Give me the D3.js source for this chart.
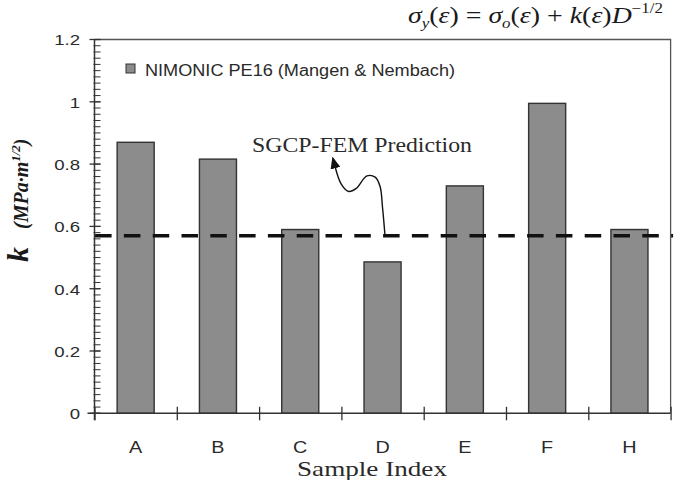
<!DOCTYPE html>
<html><head><meta charset="utf-8">
<script src="https://cdn.jsdelivr.net/npm/d3@7"></script>
<style>
html,body{margin:0;padding:0;background:#fff;}
svg{display:block;}
</style></head>
<body>
<svg id="chart" width="679" height="480"></svg>
<script>
// ---- data ----
const categories = ["A","B","C","D","E","F","H"];
const kValues = [0.870, 0.816, 0.590, 0.486, 0.730, 0.995, 0.590];
const prediction = 0.57;
const yTicks = [0, 0.2, 0.4, 0.6, 0.8, 1.0, 1.2];
const yTickLabels = ["0","0.2","0.4","0.6","0.8","1","1.2"];
const legendLabel = "NIMONIC PE16 (Mangen & Nembach)";
const annotationLabel = "SGCP-FEM Prediction";
const xTitle = "Sample Index";
// annotation arrow path in data space (category index, k value)
const arrowIdx = [3.53, 3.50, 3.47, 3.41, 3.31, 3.18, 3.09, 3.00, 2.925];
const arrowVal = [0.570, 0.660, 0.728, 0.758, 0.762, 0.722, 0.712, 0.735, 0.790];

// ---- layout ----
const L = 94.5, R = 670.6, T = 39.5, B = 413.3;
const svg = d3.select("#chart");

const x = d3.scaleBand().domain(categories).range([L, R]).paddingInner(0.55).paddingOuter(0.275);
const xi = d3.scaleLinear().domain([0, categories.length]).range([L, R]);
const y = d3.scaleLinear().domain([0, 1.2]).range([B, T]);

const axisColor = "#333";
const textColor = "#2a2a2a";
const sans = "Arial, 'Liberation Sans', Helvetica, sans-serif";
const serif = "'Times New Roman', 'Liberation Serif', Times, serif";

// frame (top + right)
svg.append("path")
  .attr("d", `M${L},${T}H${R}V${B}`)
  .attr("fill", "none").attr("stroke", "#555").attr("stroke-width", 1.3);

// bars
svg.append("g").selectAll("rect").data(categories).join("rect")
  .attr("x", d => x(d))
  .attr("y", (d, i) => y(kValues[i]))
  .attr("width", x.bandwidth())
  .attr("height", (d, i) => y(0) - y(kValues[i]))
  .attr("fill", "#8c8c8c")
  .attr("stroke", "#333")
  .attr("stroke-width", 1.4);

// y axis
const yAxis = svg.append("g").attr("transform", `translate(${L},0)`)
  .call(d3.axisLeft(y).tickValues(yTicks).tickSize(0).tickPadding(0)
    .tickFormat((d, i) => yTickLabels[i]));
yAxis.select(".domain").remove();
yAxis.selectAll("text")
  .attr("x", 0).attr("dy", "0.35em")
  .attr("transform", "translate(-14.5,0) scale(1.2,1)")
  .attr("font-family", sans).attr("font-size", 15.5).attr("fill", textColor);
// axis line
svg.append("line").attr("x1", L).attr("x2", L).attr("y1", T).attr("y2", B + 7)
  .attr("stroke", axisColor).attr("stroke-width", 1.5);
// minor ticks
svg.append("g").selectAll("line").data(d3.range(0, 61).map(i => i * 0.02)).join("line")
  .attr("x1", L - 1).attr("x2", L + 6)
  .attr("y1", d => y(d)).attr("y2", d => y(d))
  .attr("stroke", axisColor).attr("stroke-width", 1);
// major ticks
svg.append("g").selectAll("line").data(yTicks).join("line")
  .attr("x1", L - 5).attr("x2", L + 6)
  .attr("y1", d => y(d)).attr("y2", d => y(d))
  .attr("stroke", axisColor).attr("stroke-width", 1.3);

// x axis
svg.append("line").attr("x1", L - 7).attr("x2", R).attr("y1", B).attr("y2", B)
  .attr("stroke", axisColor).attr("stroke-width", 1.5);
const xAx = svg.append("g").attr("transform", `translate(0,${B})`)
  .call(d3.axisBottom(xi).tickValues(d3.range(0, categories.length + 1)).tickSize(7).tickFormat(""));
xAx.select(".domain").remove();
xAx.selectAll(".tick line").attr("y1", -6.5).attr("stroke", axisColor).attr("stroke-width", 1.3);
const xLab = svg.append("g").attr("transform", `translate(0,${B})`)
  .call(d3.axisBottom(x).tickSize(0).tickPadding(0));
xLab.select(".domain").remove();
xLab.selectAll("text")
  .attr("y", 0).attr("dy", 0)
  .attr("transform", "translate(0,40) scale(1.2,1)")
  .attr("font-family", sans).attr("font-size", 16.5).attr("fill", textColor);

// prediction dashed line
svg.append("line")
  .attr("x1", L - 9.5).attr("x2", R + 2.5)
  .attr("y1", y(prediction)).attr("y2", y(prediction))
  .attr("stroke", "#111").attr("stroke-width", 3.4)
  .attr("stroke-dasharray", "16.5,12.3").attr("stroke-dashoffset", 18.7);

// arrow
svg.append("defs").append("marker")
  .attr("id", "ah").attr("viewBox", "0 0 12 10").attr("refX", 1).attr("refY", 5)
  .attr("markerWidth", 12).attr("markerHeight", 10).attr("markerUnits", "userSpaceOnUse")
  .attr("orient", "auto")
  .append("path").attr("d", "M0,0 L12,5 L0,10 Z").attr("fill", "#111");
const arrowPts = arrowIdx.map((v, i) => [xi(v), y(arrowVal[i])]);
svg.append("path")
  .attr("d", d3.line().curve(d3.curveCatmullRom.alpha(0.5))(arrowPts))
  .attr("fill", "none").attr("stroke", "#111").attr("stroke-width", 1.4)
  .attr("marker-end", "url(#ah)");

// annotation text
svg.append("text")
  .attr("x", xi(1.914)).attr("y", y(0.839))
  .attr("font-family", serif).attr("font-size", 20).attr("fill", textColor)
  .attr("textLength", 220).attr("lengthAdjust", "spacingAndGlyphs")
  .text(annotationLabel);

// legend
svg.append("rect").attr("x", 126).attr("y", 64).attr("width", 9).attr("height", 9)
  .attr("fill", "#8c8c8c").attr("stroke", "#333").attr("stroke-width", 1);
svg.append("text").attr("x", 145).attr("y", 75.5)
  .attr("font-family", sans).attr("font-size", 16).attr("fill", textColor)
  .attr("textLength", 310).attr("lengthAdjust", "spacingAndGlyphs")
  .text(legendLabel);

// x title
svg.append("text").attr("x", 297).attr("y", 476)
  .attr("font-family", serif).attr("font-size", 22).attr("fill", textColor)
  .attr("textLength", 150).attr("lengthAdjust", "spacingAndGlyphs")
  .text(xTitle);

// y title
const yt = svg.append("text")
  .attr("transform", "translate(28,262) rotate(-90)")
  .attr("font-family", serif).attr("font-weight", "bold").attr("font-style", "italic")
  .attr("fill", "#1a1a1a");
yt.append("tspan").attr("font-size", 30).text("k");
yt.append("tspan").attr("font-size", 20).attr("dx", 18).text("(MPa·m");
yt.append("tspan").attr("font-size", 13).attr("dy", -8).text("1/2");
yt.append("tspan").attr("font-size", 20).attr("dy", 8).text(")");

// formula
const f = svg.append("text").attr("x", 408).attr("y", 23)
  .attr("font-family", serif).attr("font-style", "italic").attr("font-size", 23).attr("fill", "#1a1a1a")
  .attr("textLength", 255).attr("lengthAdjust", "spacingAndGlyphs");
f.append("tspan").text("σ");
f.append("tspan").attr("font-size", 14).attr("dy", 5).text("y");
f.append("tspan").attr("dy", -5).attr("font-style", "normal").text("(");
f.append("tspan").text("ε");
f.append("tspan").attr("font-style", "normal").text(") = ");
f.append("tspan").text("σ");
f.append("tspan").attr("font-size", 14).attr("dy", 5).text("o");
f.append("tspan").attr("dy", -5).attr("font-style", "normal").text("(");
f.append("tspan").text("ε");
f.append("tspan").attr("font-style", "normal").text(") + ");
f.append("tspan").text("k");
f.append("tspan").attr("font-style", "normal").text("(");
f.append("tspan").text("ε");
f.append("tspan").attr("font-style", "normal").text(")");
f.append("tspan").text("D");
f.append("tspan").attr("font-size", 14).attr("dy", -10).attr("font-style", "normal").text("−1/2");
</script>
</body></html>
